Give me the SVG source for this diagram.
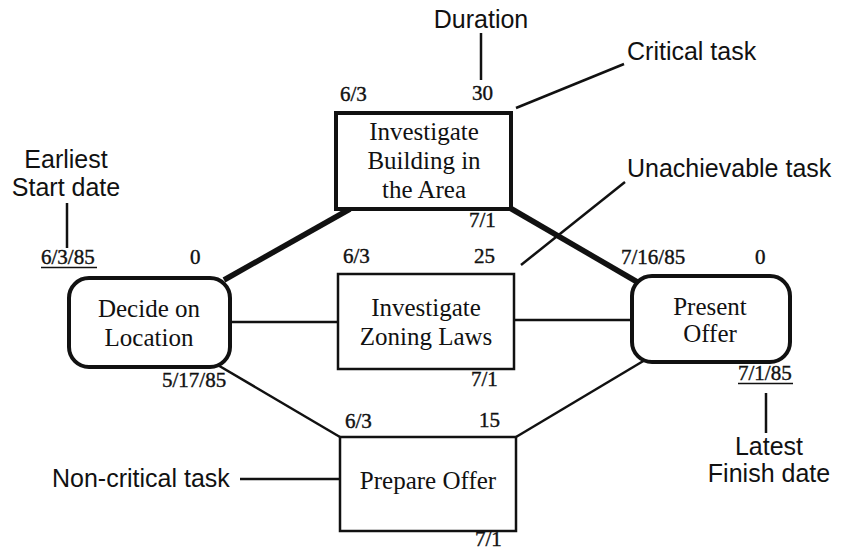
<svg xmlns="http://www.w3.org/2000/svg" width="848" height="551" viewBox="0 0 848 551">
<style>
.sans{font-family:"Liberation Sans",Arial,sans-serif;font-size:25px;fill:#111}
.serif{font-family:"Liberation Serif","Times New Roman",serif;font-size:25px;fill:#111;text-anchor:middle}
.num{font-family:"Liberation Serif","Times New Roman",serif;font-size:21px;fill:#111;stroke:#111;stroke-width:0.4}
.box{fill:#fff;stroke:#111}
.thin{stroke:#111;stroke-width:2.5;fill:none}
.thick{stroke:#111;stroke-width:5.5;fill:none}
.lead{stroke:#111;stroke-width:2.5;fill:none}
.ul{stroke:#111;stroke-width:1.3}
</style>
<rect width="848" height="551" fill="#fff"/>
<g id="connectors">
<line class="thick" x1="224" y1="280" x2="350" y2="209"/>
<line class="thick" x1="510" y1="208" x2="639" y2="283"/>
<line class="thin" x1="230" y1="322" x2="338" y2="322"/>
<line class="thin" x1="514" y1="320" x2="632" y2="320"/>
<line class="thin" x1="216" y1="364" x2="340" y2="437"/>
<line class="thin" x1="516" y1="437" x2="645" y2="360"/>
</g>
<g id="decide">
<rect class="box" x="69" y="278" width="161" height="89" rx="20" stroke-width="4"/>
<text class="serif" x="149" y="317">Decide on</text>
<text class="serif" x="149" y="346">Location</text>
<text class="num" x="41" y="264">6/3/85</text>
<line class="ul" x1="41" y1="267.5" x2="97" y2="267.5"/>
<text class="num" x="190" y="264">0</text>
<text class="num" x="162" y="387">5/17/85</text>
</g>
<g id="building">
<rect class="box" x="336" y="113" width="175" height="96" stroke-width="4"/>
<text class="serif" x="424" y="140">Investigate</text>
<text class="serif" x="424" y="169">Building in</text>
<text class="serif" x="424" y="198">the Area</text>
<text class="num" x="340" y="101">6/3</text>
<text class="num" x="472" y="100">30</text>
<text class="num" x="469" y="227">7/1</text>
</g>
<g id="zoning">
<rect class="box" x="338" y="274" width="176" height="95" stroke-width="2.5"/>
<text class="serif" x="426" y="316">Investigate</text>
<text class="serif" x="426" y="345">Zoning Laws</text>
<text class="num" x="343" y="263">6/3</text>
<text class="num" x="474" y="263">25</text>
<text class="num" x="471" y="386">7/1</text>
</g>
<g id="prepare">
<rect class="box" x="340" y="437" width="176" height="94" stroke-width="2.5"/>
<text class="serif" x="428" y="489">Prepare Offer</text>
<text class="num" x="345" y="428">6/3</text>
<text class="num" x="479" y="427">15</text>
<text class="num" x="475" y="546" font-size="20">7/1</text>
</g>
<g id="present">
<rect class="box" x="632" y="276" width="158" height="86" rx="20" stroke-width="4"/>
<text class="serif" x="710" y="315">Present</text>
<text class="serif" x="710" y="342">Offer</text>
<text class="num" x="621" y="264">7/16/85</text>
<text class="num" x="755" y="264">0</text>
<text class="num" x="738" y="380">7/1/85</text>
<line class="ul" x1="738" y1="383.5" x2="793" y2="383.5"/>
</g>
<g id="annotations">
<text class="sans" x="481" y="28" text-anchor="middle">Duration</text>
<line class="lead" x1="481" y1="33" x2="481" y2="80"/>
<text class="sans" x="627" y="60">Critical task</text>
<line class="lead" x1="516" y1="108" x2="624" y2="64"/>
<text class="sans" x="627" y="177">Unachievable task</text>
<line class="lead" x1="521" y1="265" x2="625" y2="182"/>
<text class="sans" x="66" y="168" text-anchor="middle">Earliest</text>
<text class="sans" x="66" y="196" text-anchor="middle">Start date</text>
<line class="lead" x1="67" y1="203" x2="67" y2="248"/>
<text class="sans" x="769" y="455" text-anchor="middle">Latest</text>
<text class="sans" x="769" y="482" text-anchor="middle">Finish date</text>
<line class="lead" x1="766" y1="393" x2="766" y2="433"/>
<text class="sans" x="52" y="487">Non-critical task</text>
<line class="lead" x1="240" y1="479" x2="340" y2="479"/>
</g>
</svg>
